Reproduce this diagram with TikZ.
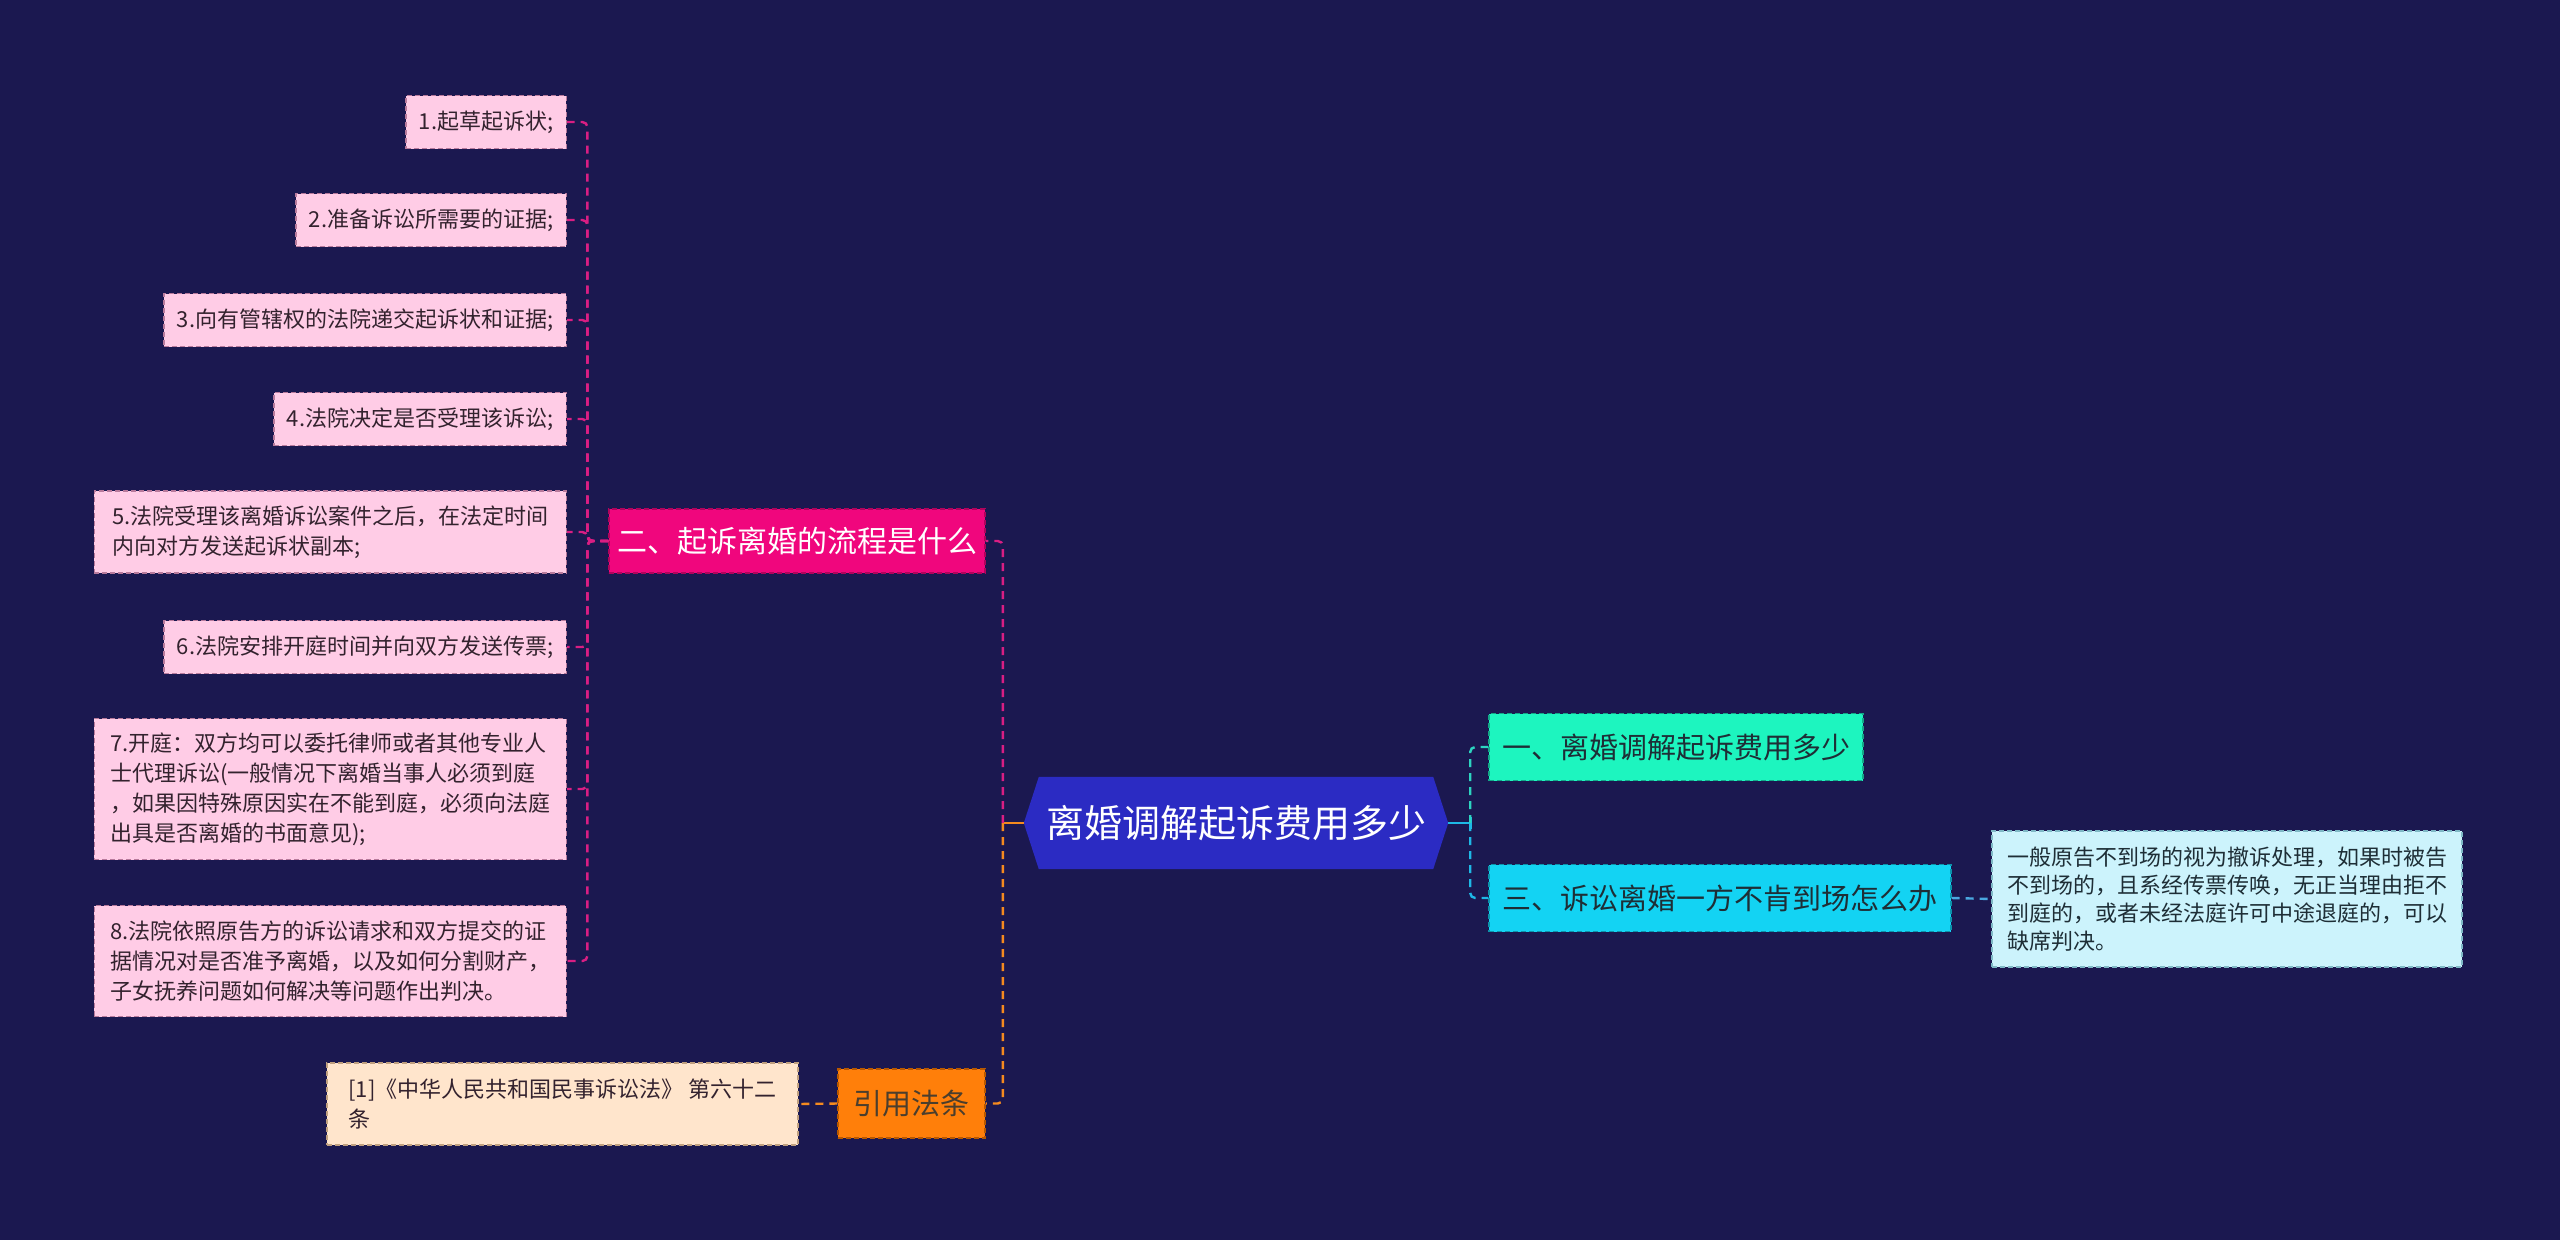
\documentclass[tikz,border=0pt]{standalone}
\usepackage{fontspec}
\setmainfont{Noto Sans CJK SC}
\usetikzlibrary{backgrounds}
\definecolor{bgc}{HTML}{1B1850}
\definecolor{leafc}{HTML}{FFCCE6}
\definecolor{leafb}{HTML}{B87A9C}
\definecolor{leaft}{HTML}{33222E}
\definecolor{pinkc}{HTML}{F0067D}
\definecolor{pinkb}{HTML}{B0045C}
\definecolor{pinkl}{HTML}{D91E83}
\definecolor{centc}{HTML}{2B2BC3}
\definecolor{mintc}{HTML}{1DF5BF}
\definecolor{mintb}{HTML}{13A888}
\definecolor{cyanc}{HTML}{13D3F3}
\definecolor{cyanb}{HTML}{0C93AB}
\definecolor{rtc}{HTML}{CCF3FC}
\definecolor{rtb}{HTML}{7FB8C6}
\definecolor{orc}{HTML}{FF7F0A}
\definecolor{orb}{HTML}{B85800}
\definecolor{orl}{HTML}{F58A1F}
\definecolor{peachc}{HTML}{FFE5CC}
\definecolor{peachb}{HTML}{C0A080}
\definecolor{darkt}{HTML}{1E2E36}
\definecolor{tealline}{HTML}{2DD4C0}
\definecolor{cyanline}{HTML}{1EB8E6}
\definecolor{blueline}{HTML}{4AA8E0}
\begin{document}
\begin{tikzpicture}[x=1pt,y=-1pt,
  box/.style={line width=1.2pt, dash pattern=on 5pt off 3pt, inner ysep=0pt, align=left},
  leaf/.style={box, fill=leafc, draw=leafb, text=leaft, font=\fontsize{22}{30}\selectfont, inner xsep=13pt, minimum height=53pt},
  conn/.style={line width=2.4pt, dash pattern=on 8pt off 6pt, rounded corners=5pt},
  stub/.style={line width=2.6pt}
]
\useasboundingbox (0,0) rectangle (2560,1240);
\begin{scope}[on background layer]
\fill[bgc] (0,0) rectangle (2560,1240);
\end{scope}

% left leaves
\node[leaf, anchor=east] (l1) at (567,122) {1.起草起诉状;};
\node[leaf, anchor=east] (l2) at (567,220) {2.准备诉讼所需要的证据;};
\node[leaf, anchor=east] (l3) at (567,320) {3.向有管辖权的法院递交起诉状和证据;};
\node[leaf, anchor=east] (l4) at (567,419) {4.法院决定是否受理该诉讼;};
\node[leaf, anchor=east, minimum width=472pt, minimum height=82pt] (l5) at (567,532) {5.法院受理该离婚诉讼案件之后，在法定时间\\内向对方发送起诉状副本;};
\node[leaf, anchor=east] (l6) at (567,647) {6.法院安排开庭时间并向双方发送传票;};
\node[leaf, anchor=east, minimum width=472pt, minimum height=141pt] (l7) at (567,789) {7.开庭：双方均可以委托律师或者其他专业人\\士代理诉讼(一般情况下离婚当事人必须到庭\\，如果因特殊原因实在不能到庭，必须向法庭\\出具是否离婚的书面意见);};
\node[leaf, anchor=east, minimum width=472pt, minimum height=111pt] (l8) at (567,961) {8.法院依照原告方的诉讼请求和双方提交的证\\据情况对是否准予离婚，以及如何分割财产，\\子女抚养问题如何解决等问题作出判决。};

% level-1 nodes
\node[box, fill=pinkc, draw=pinkb, text=white, font=\fontsize{30}{36}\selectfont, minimum width=376pt, minimum height=64pt] (n2) at (797,541) {二、起诉离婚的流程是什么};
\node[box, fill=mintc, draw=mintb, text=darkt, font=\fontsize{29}{34}\selectfont, minimum width=374pt, minimum height=67pt] (n1) at (1676,747) {一、离婚调解起诉费用多少};
\node[box, fill=cyanc, draw=cyanb, text=darkt, font=\fontsize{29}{34}\selectfont, minimum width=462pt, minimum height=67pt] (n3) at (1720,898) {三、诉讼离婚一方不肯到场怎么办};
\node[box, fill=orc, draw=orb, text=darkt!80!orc, font=\fontsize{29}{34}\selectfont, minimum width=147pt, minimum height=69pt] (yf) at (911.5,1103.5) {引用法条};
\node[box, fill=peachc, draw=peachb, text=leaft, font=\fontsize{22}{30}\selectfont, minimum width=471pt, minimum height=82pt] (law) at (562.5,1104) {[1]《中华人民共和国民事诉讼法》 第六十二\\条};
\node[box, fill=rtc, draw=rtb, text=darkt, font=\fontsize{22}{28}\selectfont, minimum width=470pt, minimum height=136pt] (rt) at (2227,899) {一般原告不到场的视为撤诉处理，如果时被告\\不到场的，且系经传票传唤，无正当理由拒不\\到庭的，或者未经法庭许可中途退庭的，可以\\缺席判决。};

% center
\node[text=white, font=\fontsize{38}{44}\selectfont, minimum width=424pt, minimum height=92pt, inner sep=0pt] (c) at (1236,823) {离婚调解起诉费用多少};
\begin{scope}[on background layer]
\fill[centc] (c.west) -- ([xshift=15pt]c.north west) -- ([xshift=-15pt]c.north east) -- (c.east) -- ([xshift=-15pt]c.south east) -- ([xshift=15pt]c.south west) -- cycle;
\end{scope}

% connectors left tree
\foreach \l in {l1,l2,l3,l4,l5,l6,l7,l8}{
  \draw[conn, pinkl] (n2.west) -- ++(-21,0) |- (\l.east);
}
\draw[stub, orl] (c.west) -- ++(-21,0) coordinate (cl);
\draw[stub, orl] ([yshift=-6pt]cl) -- ([yshift=6pt]cl);
\draw[conn, pinkl] (cl) |- (n2.east);
\draw[conn, orl] (cl) |- (yf.east);
\draw[conn, orl] (yf.west) -- (law.east);

% right tree
\draw[stub, cyanline] (c.east) -- ++(22,0) coordinate (cr);
\draw[stub, cyanline] ([yshift=-6pt]cr) -- ([yshift=6pt]cr);
\draw[conn, tealline] (cr) |- (n1.west);
\draw[conn, cyanline] (cr) |- (n3.west);
\draw[conn, blueline] (n3.east) -- (rt.west);
\end{tikzpicture}
\end{document}
